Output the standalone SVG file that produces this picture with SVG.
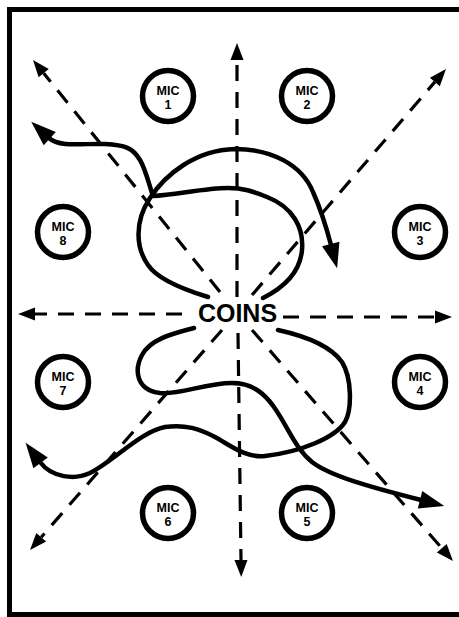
<svg xmlns="http://www.w3.org/2000/svg" width="459" height="617" viewBox="0 0 459 617">
  <style>
    .frame { fill: none; stroke: #000; stroke-width: 5; }
    .mic circle { fill: #fff; stroke: #000; stroke-width: 5.5; }
    .mic text { font-family: "Liberation Sans", Arial, sans-serif; font-weight: bold; font-size: 12.5px; text-anchor: middle; fill: #000; }
    .ray { fill: none; stroke: #000; stroke-width: 3.2; stroke-dasharray: 16 11; marker-end: url(#dashHead); }
    .path { fill: none; stroke: #000; stroke-width: 4.5; stroke-linecap: round; stroke-linejoin: round; marker-end: url(#solidHead); }
    .label { font-family: "Liberation Sans", Arial, sans-serif; font-weight: bold; font-size: 25px; text-anchor: middle; fill: #000; }
  </style>
  <defs>
    <marker id="dashHead" markerUnits="userSpaceOnUse" markerWidth="20" markerHeight="16" refX="0" refY="0" viewBox="0 -8 20 16" orient="auto" overflow="visible">
      <path d="M0,-6.5 L17,0 L0,6.5 Z" fill="#000"/>
    </marker>
    <marker id="solidHead" markerUnits="userSpaceOnUse" markerWidth="28" markerHeight="22" refX="0" refY="0" viewBox="0 -11 28 22" orient="auto" overflow="visible">
      <path d="M-1,-9 L24,0 L-1,9 Z" fill="#000"/>
    </marker>
  </defs>

  <!-- outer frame, open past the right edge -->
  <rect class="frame" x="9.5" y="9.5" width="480" height="605"/>

  <!-- dashed sound rays from the coins -->
  <g id="rays">
    <line class="ray" x1="237" y1="297" x2="237" y2="60"/>
    <line class="ray" x1="238" y1="333" x2="241" y2="560"/>
    <line class="ray" x1="182" y1="314" x2="35" y2="314"/>
    <line class="ray" x1="283" y1="317" x2="435" y2="317"/>
    <line class="ray" x1="220" y1="292" x2="43.7" y2="73.2"/>
    <line class="ray" x1="252" y1="295" x2="434.9" y2="81.9"/>
    <line class="ray" x1="222" y1="330" x2="41.2" y2="537.2"/>
    <line class="ray" x1="252" y1="330" x2="441.8" y2="548.2"/>
  </g>

  <!-- wandering solid paths -->
  <g id="paths">
    <path class="path" d="M208,297 C185,290 158,280 148,265 C136,248 134,222 150,198 C165,175 195,150 235,149 C272,149 302,165 313,192 C322,212 326,226 331,245"/>
    <path class="path" d="M263,298 C283,288 300,273 302,250 C304,228 293,207 267,197 C252,191 243,188 228,188 C205,188 175,195 153,196 C150,188 146,170 140,160 C133,148 125,145 105,144 C85,143 60,148 49,138"/>
    <path class="path" d="M194,328 C170,334 150,340 142,355 C134,370 136,390 160,393 C180,395 205,383 232,383 C252,383 264,393 274,407 C288,427 295,448 312,462 C330,476 370,487 421,500"/>
    <path class="path" d="M278,330 C305,336 330,345 342,362 C352,378 352,410 345,422 C335,438 300,452 265,456 C245,458 230,445 215,437 C200,429 185,424 165,427 C140,432 115,460 90,473 C75,480 52,478 40,462"/>
  </g>

  <g id="coins">
    <text class="label" x="237.5" y="322">COINS</text>
  </g>

  <!-- microphones -->
  <g id="mic1" class="mic"><circle cx="168" cy="96" r="25.5"/><text x="168" y="95">MIC</text><text x="168" y="109">1</text></g>
  <g id="mic2" class="mic"><circle cx="307" cy="96" r="25.5"/><text x="307" y="95">MIC</text><text x="307" y="109">2</text></g>
  <g id="mic3" class="mic"><circle cx="420" cy="232" r="25.5"/><text x="420" y="231">MIC</text><text x="420" y="245">3</text></g>
  <g id="mic4" class="mic"><circle cx="420" cy="382" r="25.5"/><text x="420" y="381">MIC</text><text x="420" y="395">4</text></g>
  <g id="mic5" class="mic"><circle cx="307" cy="513" r="25.5"/><text x="307" y="512">MIC</text><text x="307" y="526">5</text></g>
  <g id="mic6" class="mic"><circle cx="168" cy="513" r="25.5"/><text x="168" y="512">MIC</text><text x="168" y="526">6</text></g>
  <g id="mic7" class="mic"><circle cx="63" cy="382" r="25.5"/><text x="63" y="381">MIC</text><text x="63" y="395">7</text></g>
  <g id="mic8" class="mic"><circle cx="63" cy="232" r="25.5"/><text x="63" y="231">MIC</text><text x="63" y="245">8</text></g>
</svg>
